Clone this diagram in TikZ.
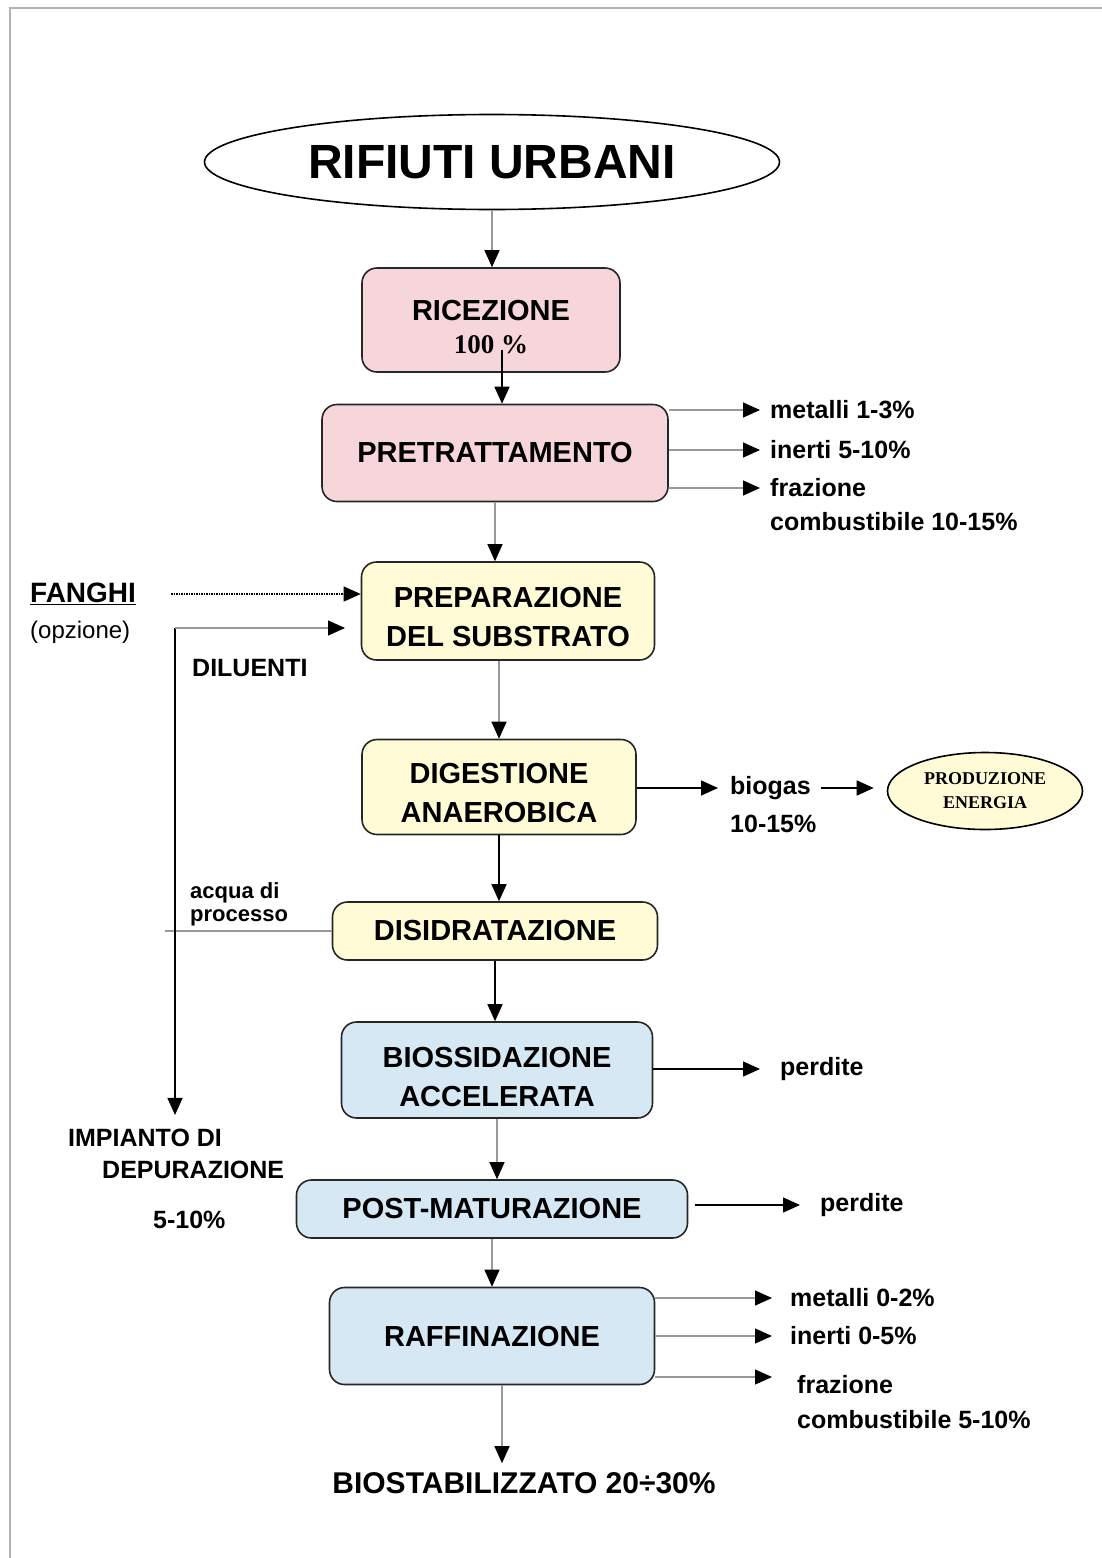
\documentclass[tikz,border=0pt]{standalone}
\usepackage{fontspec}
\setmainfont{Liberation Sans}
\newfontfamily\serifbf{Liberation Serif}
\usetikzlibrary{shapes,arrows.meta,positioning}

\newcommand{\sz}[2]{\fontsize{#1pt}{#2pt}\selectfont}

\begin{document}
\begin{tikzpicture}[x=1pt, y=-1pt,
  stage/.style={draw=black!85, line width=1.6pt, rounded corners=15pt, inner sep=0pt,
    align=center, font=\bfseries\sz{29}{39}},
  side/.style={anchor=west, inner sep=0pt, font=\bfseries\sz{25}{30}},
  flow/.style={-{Triangle[length=17pt,width=15pt,color=black]}, line width=1.5pt},
  grayflow/.style={flow, draw=gray!80, line width=1.2pt}]
  % Colours of the three groups of stages
  \definecolor{cPink}{RGB}{246, 214, 218}
  \definecolor{cCream}{RGB}{255, 251, 214}
  \definecolor{cSky}{RGB}{214, 232, 244}

  \useasboundingbox (0,0) rectangle (1102,1558);

  % Page frame (top and left only)
  \draw[gray!60, line width=1.5pt] (10,1558) -- (10,8) -- (1102,8);

  % Input
  \node[ellipse, draw, line width=1.6pt, minimum width=575pt, minimum height=95pt,
        font=\bfseries\sz{48}{52}] (ru) at (492,162) {RIFIUTI URBANI};

  % Stages, top to bottom
  \node[stage, fill=cPink, minimum width=258pt, minimum height=104pt] (ric) at (491,320)
    {\rule{0pt}{34pt}RICEZIONE\\[-6pt]{\serifbf\sz{27}{30}100 \%}};
  \node[stage, fill=cPink, minimum width=346pt, minimum height=97pt] (pre) at (495,453)
    {PRETRATTAMENTO};
  \node[stage, fill=cCream, minimum width=293pt, minimum height=98pt] (prep) at (508,611)
    {\rule{0pt}{33pt}PREPARAZIONE\\DEL SUBSTRATO};
  \node[stage, fill=cCream, minimum width=274pt, minimum height=95pt] (dig) at (499,787)
    {\rule{0pt}{33pt}DIGESTIONE\\ANAEROBICA};
  \node[stage, fill=cCream, minimum width=325pt, minimum height=58pt] (dis) at (495,931)
    {DISIDRATAZIONE};
  \node[stage, fill=cSky, minimum width=311pt, minimum height=96pt] (bio) at (497,1070)
    {\rule{0pt}{35pt}BIOSSIDAZIONE\\ACCELERATA};
  \node[stage, fill=cSky, minimum width=391pt, minimum height=58pt] (post) at (492,1209)
    {POST-MATURAZIONE};
  \node[stage, fill=cSky, minimum width=325pt, minimum height=97pt] (raf) at (492,1336)
    {RAFFINAZIONE};

  % Output
  \node[font=\bfseries\sz{30}{34}, inner sep=0pt] (bst) at (524,1483) {BIOSTABILIZZATO 20÷30\%};

  % Main line
  \draw[grayflow] (ru.south) -- (ru.south |- ric.north);
  \draw[flow] ([xshift=11pt,yshift=-30pt]ric.center) -- ([xshift=11pt]ric.south |- pre.north);
  \draw[grayflow] (pre.south) -- (pre.south |- prep.north);
  \draw[grayflow] (dig.north |- prep.south) -- (dig.north);
  \draw[flow] (dig.south) -- (dig.south |- dis.north);
  \draw[flow] (dis.south) -- (dis.south |- bio.north);
  \draw[grayflow] (bio.south) -- (bio.south |- post.north);
  \draw[grayflow] (post.south) -- (post.south |- raf.north);
  \draw[grayflow, shorten >=9pt] ([xshift=10pt]raf.south) -- ([xshift=10pt]raf.south |- bst.north);

  % Outputs of the pretreatment
  \node[side] (met1) at (770,410) {metalli 1-3\%};
  \node[side] (ine1) at (770,450) {inerti 5-10\%};
  \node[side] (fra1) at (770,488) {frazione};
  \node[side] (com1) at (770,522) {combustibile 10-15\%};
  \draw[grayflow, shorten >=10pt] (pre.east |- met1.west) -- (met1.west);
  \draw[grayflow, shorten >=10pt] (pre.east |- ine1.west) -- (ine1.west);
  \draw[grayflow, shorten >=10pt] (pre.east |- fra1.west) -- (fra1.west);

  % Sludge and diluents
  \node[side, font=\bfseries\sz{28}{30}] (fan) at (30,594) {\underline{FANGHI}};
  \node[side, font=\sz{24}{28}] (opz) at (30,632) {(opzione)};
  \node[side] (dil) at (192,668) {DILUENTI};
  \draw[flow, densely dotted, line width=1.2pt] ([xshift=35pt]fan.east) -- (prep.west |- fan.east);

  \coordinate (jn) at (175,931);
  \coordinate (dtip) at (345,628);
  \node[side, align=left, font=\bfseries\sz{22}{23}] (acq) at (190,904) {acqua di\\processo};
  \draw[gray!80, line width=1.2pt] (dis.west) -- ([xshift=-10pt]jn);
  \draw[line width=1.5pt] (jn) -- (jn |- dtip);
  \draw[grayflow] (jn |- dtip) -- (dtip);

  % Treatment plant
  \node[side] (imp1) at (68,1138) {IMPIANTO DI};
  \node[side] (imp2) at (102,1170) {DEPURAZIONE};
  \node[side] (imp3) at (153,1220) {5-10\%};
  \draw[flow, shorten >=14pt] (jn) -- (jn |- imp1.north);

  % Biogas
  \node[side] (bg) at (730,788) {biogas};
  \node[side] (bgp) at (730,824) {10-15\%};
  \node[ellipse, draw, line width=1.6pt, fill=cCream, minimum width=195pt, minimum height=77pt,
        align=center, font=\serifbf\bfseries\sz{18}{24}] (en) at (985,791) {PRODUZIONE\\ENERGIA};
  \draw[flow, shorten >=12pt] (dig.east |- bg.west) -- (bg.west);
  \draw[flow, shorten <=10pt, shorten >=13pt] (bg.east) -- (bg.east -| en.west);

  % Losses
  \node[side] (pe1) at (780,1069) {perdite};
  \node[side] (pe2) at (820,1205) {perdite};
  \draw[flow, shorten >=20pt] (bio.east |- pe1.west) -- (pe1.west);
  \draw[flow, shorten <=7pt, shorten >=20pt] (post.east |- pe2.west) -- (pe2.west);

  % Outputs of the refining
  \node[side] (met2) at (790,1298) {metalli 0-2\%};
  \node[side] (ine2) at (790,1336) {inerti 0-5\%};
  \node[side] (fra2) at (797,1385) {frazione};
  \node[side] (com2) at (797,1420) {combustibile 5-10\%};
  \coordinate (rtip) at (772,1377);
  \draw[grayflow, shorten >=18pt] (raf.east |- met2.west) -- (met2.west);
  \draw[grayflow, shorten >=18pt] (raf.east |- ine2.west) -- (ine2.west);
  \draw[grayflow] (raf.east |- rtip) -- (rtip);

\end{tikzpicture}
\end{document}
